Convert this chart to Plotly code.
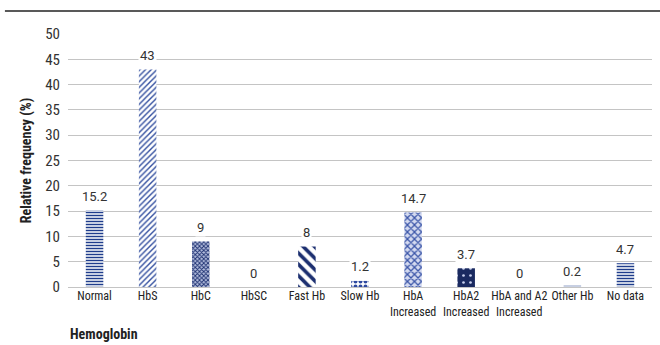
import plotly.graph_objects as go

categories = ["Normal", "HbS", "HbC", "HbSC", "Fast Hb", "Slow Hb",
              "HbA<br>Increased", "HbA2<br>Increased", "HbA and A2<br>Increased",
              "Other Hb", "No data"]
values = [15.2, 43, 9, 0, 8, 1.2, 14.7, 3.7, 0, 0.2, 4.7]
labels = ["15.2", "43", "9", "0", "8", "1.2", "14.7", "3.7", "0", "0.2", "4.7"]
shapes_pat = ["-", "/", "x", "", "\\", ".", "x", ".", "", "-", "-"]
bg_colors = ["white", "white", "#b4bede", "white", "white", "white",
             "#d4daf0", "#1a2a60", "white", "white", "white"]
fg_colors = ["#1f3d8c", "#3450a0", "#1c2f70", "#1c2f70", "#1c2f70", "#2f4aa0",
             "#3a55a8", "#c8d0ee", "#1c2f70", "#1f3d8c", "#1f3d8c"]
pat_size = [3, 4, 3, 6, 8, 5, 5, 7, 6, 3, 3]
pat_solid = [0.5, 0.35, 0.5, 0.3, 0.45, 0.5, 0.45, 0.12, 0.3, 0.5, 0.5]

FONT = "Roboto Condensed, sans-serif"
VFONT = "Roboto, sans-serif"

fig = go.Figure()
for i, c in enumerate(categories):
    fig.add_trace(go.Bar(
        x=[c], y=[values[i]],
        width=0.33,
        marker=dict(
            color=fg_colors[i],
            line=dict(width=0),
            pattern=dict(shape=shapes_pat[i], fgcolor=fg_colors[i], bgcolor=bg_colors[i],
                         size=pat_size[i], solidity=pat_solid[i], fillmode="replace",
                         fgopacity=1),
        ),
        hoverinfo="skip",
    ))

for c, v, t in zip(categories, values, labels):
    fig.add_annotation(x=c, y=v, text=t, showarrow=False, yshift=14,
                       font=dict(family=VFONT, size=13, color="#333333"),
                       bgcolor="white", borderpad=1)

fig.add_shape(type="line", xref="paper", yref="paper",
              x0=-0.108, x1=1.02, y0=1.091, y1=1.091,
              line=dict(color="#222222", width=1.5))

fig.add_annotation(xref="paper", yref="paper", x=0.0, y=-0.185, xanchor="left", yanchor="middle",
                   text="<b>Hemoglobin</b>", showarrow=False,
                   font=dict(family=FONT, size=14, color="#222222"))

fig.update_layout(
    width=660, height=345,
    margin=dict(l=68, r=8, t=34, b=58),
    plot_bgcolor="white", paper_bgcolor="white",
    showlegend=False,
    barmode="overlay",
    font=dict(family=FONT, color="#222222"),
    xaxis=dict(
        tickfont=dict(family=FONT, size=12, color="#222222"),
        tickangle=0,
        showgrid=False, showline=False, ticks="",
    ),
    yaxis=dict(
        range=[0, 50], dtick=5,
        showgrid=True, gridcolor="#c4c4c4", gridwidth=1.3,
        zeroline=True, zerolinecolor="#c4c4c4", zerolinewidth=1.3,
        tickfont=dict(family=FONT, size=15, color="#333333"),
        ticks="outside", ticklen=4, tickcolor="white",
        title=dict(text="<b>Relative frequency (%)</b>", font=dict(family=FONT, size=14), standoff=10),
    ),
)

fig.write_html("out.html")
